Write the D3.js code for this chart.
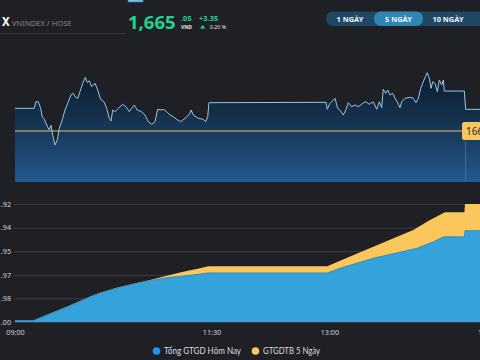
<!DOCTYPE html>
<html><head><meta charset="utf-8">
<script src="https://cdn.jsdelivr.net/npm/d3@7/dist/d3.min.js"></script>
<style>
html,body{margin:0;padding:0;background:#1f2025;overflow:hidden}
svg{display:block;font-family:"Noto Sans","Open Sans",sans-serif}
</style></head><body>
<svg id="c" width="480" height="360"></svg>
<script>
// ---- data ----
// price (VNINDEX) intraday, minutes after 09:00
const priceTimes = [0,14.7,16.0,17.8,19.6,20.8,22.4,24.2,26.2,27.5,28.8,30.5,32.3,33.8,35.6,38.2,40.7,42.7,44.5,46.3,47.9,49.6,51.7,53.7,55.2,56.7,58.5,61.1,63.1,65.4,67.9,70.0,72.0,73.3,74.6,76.3,78.9,82.2,84.7,87.3,89.1,91.1,93.4,96.7,99.2,101.8,104.4,106.9,108.9,111.5,113.2,115.8,118.3,120.8,123.4,126.5,129.8,133.1,134.4,136.1,139.9,143.7,145.6,147.1,148.1,237.4,238.4,240.5,244.3,246.3,248.1,250.6,252.7,254.4,257.0,259.5,262.1,265.4,267.9,270.5,273.5,276.1,278.1,279.9,281.1,283.0,284.5,286.3,288.3,290.1,291.8,293.9,295.2,297.7,301.5,304.0,306.1,307.9,309.7,312.2,314.7,316.3,317.6,318.9,320.6,322.4,323.9,325.7,327.0,327.7,343.0,344.0,360];
const priceValues = [1665.20,1665.20,1666.22,1666.22,1665.20,1663.91,1663.51,1662.63,1661.86,1662.58,1661.08,1659.54,1660.31,1662.12,1663.14,1664.94,1666.22,1667.26,1667.52,1666.90,1666.75,1667.77,1669.06,1669.99,1669.16,1669.46,1668.54,1669.06,1668.03,1666.59,1666.22,1665.20,1663.66,1663.24,1664.94,1664.68,1665.20,1665.82,1665.45,1664.68,1665.20,1665.71,1664.94,1664.68,1664.17,1663.14,1662.74,1663.14,1665.05,1664.94,1665.05,1664.68,1664.17,1663.91,1663.51,1663.14,1663.66,1664.28,1664.94,1664.17,1663.66,1663.51,1663.14,1663.91,1666.07,1666.13,1665.05,1665.98,1666.75,1665.20,1664.94,1664.17,1665.05,1666.07,1665.45,1665.71,1665.45,1665.98,1666.22,1665.82,1666.22,1665.05,1666.22,1665.30,1668.14,1667.52,1668.03,1667.26,1667.52,1666.75,1666.22,1665.30,1666.22,1666.75,1666.90,1666.75,1666.07,1666.75,1668.29,1669.57,1670.70,1669.83,1668.29,1669.31,1669.06,1667.77,1669.57,1668.80,1669.57,1667.87,1667.87,1665.05,1665.05];
const referencePrice = 1661.70;
const referenceLabel = "1661.70";

// trading value (Tổng GTGD Hôm Nay), in grid units
const todayTimes  = [0,14.0,26.7,39.5,52.1,57.3,64.9,77.6,90.3,103.1,115.8,128.5,141.2,147.6,238.4,248.1,273.5,306.6,319.3,327.5,343.0,343.5,360];
const todayValues = [0.06,0.06,0.34,0.62,0.93,1.07,1.22,1.43,1.60,1.75,1.88,1.95,2.03,2.08,2.08,2.28,2.70,3.12,3.40,3.61,3.61,3.87,3.87];
// 5-day average (GTGDTB 5 Ngày)
const avgTimes  = [0,14.0,26.7,39.5,52.1,64.9,77.6,90.3,103.1,115.8,128.5,141.2,147.6,238.4,248.1,273.5,304.0,316.8,328.2,343.0,343.5,360];
const avgValues = [0.06,0.06,0.36,0.65,0.95,1.24,1.45,1.62,1.78,1.96,2.13,2.28,2.36,2.36,2.60,3.19,3.90,4.32,4.65,4.65,5.00,5.00];

const yTickValues = [0,1,2,3,4,5];
const yTickLabels = [".00",".98",".97",".95",".94",".92"];
const xTickValues = [0,150,240,360];
const xTickLabels = ["09:00","11:30","13:00","15:00"];
const seriesNames = ["Tổng GTGD Hôm Nay","GTGDTB 5 Ngày"];
const periodLabels = ["1 NGÀY","5 NGÀY","10 NGÀY"];

// ---- drawing ----
const svg = d3.select("#c");
const green = "#1fd490";

// header
svg.append("rect").attr("x",128).attr("y",-1).attr("width",15).attr("height",3).attr("fill","#79bde6").attr("stroke","#3b7fae").attr("stroke-width",0.6);
svg.append("text").attr("x",2).attr("y",25.5).attr("fill","#fff").attr("font-size",11.5).attr("font-weight",700).text("X");
svg.append("text").attr("x",12).attr("y",25.5).attr("fill","#85878d").attr("font-size",7.6).text("VNINDEX / HOSE");
svg.append("line").attr("x1",0).attr("x2",125).attr("y1",33.5).attr("y2",33.5).attr("stroke","#34363b");
svg.append("text").attr("x",128).attr("y",28.5).attr("fill",green).attr("font-size",18.5).attr("font-weight",700).text("1,665");
svg.append("text").attr("x",181).attr("y",21).attr("fill",green).attr("font-size",7.5).attr("font-weight",700).text(".05");
svg.append("text").attr("x",181).attr("y",29).attr("fill","#e6e6e6").attr("font-size",5).attr("font-weight",700).text("VND");
svg.append("text").attr("x",199).attr("y",21).attr("fill",green).attr("font-size",7.5).attr("font-weight",700).text("+3.35");
svg.append("path").attr("d","M200,28.5L202.7,25L205.4,28.5Z").attr("fill",green);
svg.append("text").attr("x",210).attr("y",29).attr("fill","#e6e6e6").attr("font-size",5.2).text("0.20 %");

// period toggle
svg.append("rect").attr("x",326).attr("y",11.5).attr("width",160).attr("height",14.5).attr("rx",7).attr("fill","#1f4865");
svg.append("rect").attr("x",374).attr("y",11.5).attr("width",49).attr("height",14.5).attr("rx",7).attr("fill","#2f86b2");
const btnX = [350,398.5,448];
svg.selectAll("text.btn").data(periodLabels).join("text").attr("class","btn")
  .attr("x",(d,i)=>btnX[i]).attr("y",21.6).attr("text-anchor","middle")
  .attr("fill","#f2f5f8").attr("font-size",7.4).attr("font-weight",700).text(d=>d);

// top price chart
const x = d3.scaleLinear().domain([0,360]).range([15,486.6]);
const yP = d3.scaleLinear().domain([1653.83,1672.66]).range([182,60]);
const defs = svg.append("defs");
const g = defs.append("linearGradient").attr("id","pg").attr("gradientUnits","userSpaceOnUse")
  .attr("x1",0).attr("x2",0).attr("y1",70).attr("y2",182);
g.append("stop").attr("offset",0).attr("stop-color","#0d1a29");
g.append("stop").attr("offset",0.45).attr("stop-color","#16324f");
g.append("stop").attr("offset",1).attr("stop-color","#23598f");
const pdata = priceTimes.map((t,i)=>({t,v:priceValues[i]}));
svg.append("path").datum(pdata).attr("fill","url(#pg)")
  .attr("d",d3.area().x(d=>x(d.t)).y0(yP.range()[0]).y1(d=>yP(d.v)));
svg.append("line").attr("x1",x(0)).attr("x2",462).attr("y1",yP(referencePrice)).attr("y2",yP(referencePrice))
  .attr("stroke","#e9c06c").attr("stroke-width",1.2);
svg.append("path").datum(pdata).attr("fill","none").attr("stroke","#93c8ec").attr("stroke-width",1)
  .attr("d",d3.line().x(d=>x(d.t)).y(d=>yP(d.v)));
svg.append("line").attr("x1",x(344)).attr("x2",x(344)).attr("y1",141).attr("y2",182).attr("stroke","#4c78a3").attr("stroke-width",0.8);
svg.append("rect").attr("x",462).attr("y",yP(referencePrice)-9).attr("width",30).attr("height",18).attr("rx",2.5).attr("fill","#f7c65c");
svg.append("text").attr("x",466).attr("y",yP(referencePrice)+3.5).attr("fill","#2a2a2a").attr("font-size",10).text(referenceLabel);

// bottom value chart
const yV = d3.scaleLinear().domain([0,5]).range([322,204]);
const yAxis = svg.append("g").attr("transform","translate(14,0)")
  .call(d3.axisLeft(yV).tickValues(yTickValues).tickSize(-466).tickPadding(3).tickFormat((d,i)=>yTickLabels[i]));
yAxis.select(".domain").remove();
yAxis.selectAll("line").attr("stroke","#3b3d43");
yAxis.selectAll("text").attr("fill","#d2d3d7").attr("font-size",7.2).attr("font-family","'Noto Sans',sans-serif");

const area = d3.area().x(d=>x(d.t)).y0(yV(0)).y1(d=>yV(d.v)).curve(d3.curveLinear);
const adata = avgTimes.map((t,i)=>({t,v:avgValues[i]}));
const tdata = todayTimes.map((t,i)=>({t,v:todayValues[i]}));
svg.append("path").datum(adata).attr("fill","#fbc65b").attr("d",area);
svg.append("path").datum(tdata).attr("fill","#35a3db").attr("d",area);
svg.append("path").datum(tdata).attr("fill","none").attr("stroke","#2581c4").attr("stroke-width",0.8)
  .attr("d",d3.line().x(d=>x(d.t)).y(d=>yV(d.v)));

const xAxis = svg.append("g").attr("transform","translate(0,322)")
  .call(d3.axisBottom(x).tickValues(xTickValues).tickSize(0).tickPadding(8).tickFormat((d,i)=>xTickLabels[i]));
xAxis.select(".domain").remove();
xAxis.selectAll("text").attr("fill","#d2d3d7").attr("font-size",7.2).attr("font-family","'Noto Sans',sans-serif");

// legend
const legendColors = ["#2196ea","#f9c95a"];
const legendX = [156.5,255.5];
const legendW = [77,57];
seriesNames.forEach((n,i)=>{
  svg.append("circle").attr("cx",legendX[i]).attr("cy",351).attr("r",3.8).attr("fill",legendColors[i]);
  svg.append("text").attr("x",legendX[i]+7.5).attr("y",354.3).attr("fill","#dcdde0")
    .attr("font-family","Lato,'Noto Sans',sans-serif").attr("font-size",9.2)
    .attr("textLength",legendW[i]).attr("lengthAdjust","spacingAndGlyphs").text(n);
});
</script></body></html>
